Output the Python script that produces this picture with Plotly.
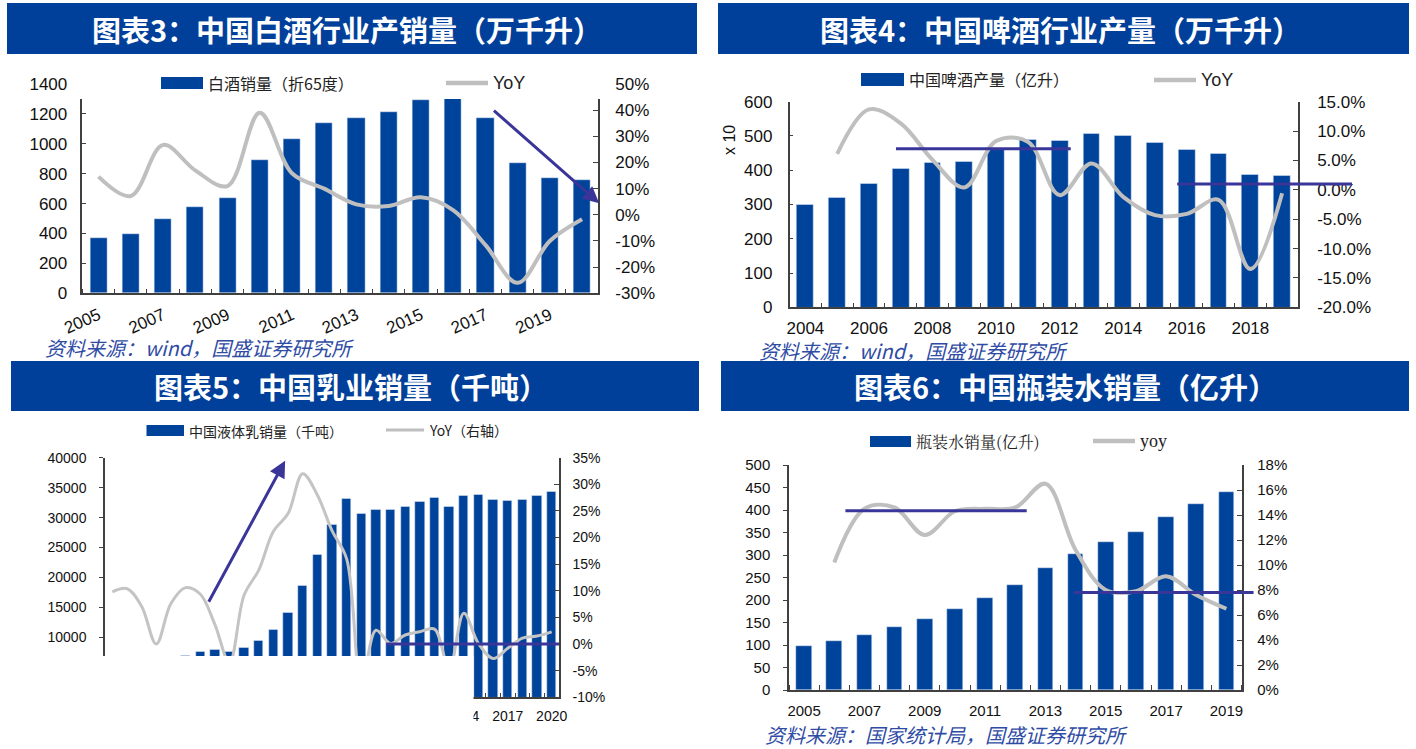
import plotly.graph_objects as go

W, H = 1416, 749

# ---------------- data ----------------
# 图表3 白酒
liquor_years = list(range(2005, 2021))
liquor_sales = [372, 397, 495, 575, 640, 890, 1030, 1140, 1175, 1215, 1290, 1340, 1175, 869, 773, 758]
liquor_yoy = [0.146, 0.072, 0.267, 0.17, 0.11, 0.39, 0.159, 0.10, 0.04, 0.034, 0.067, 0.018,
              -0.115, -0.26, -0.10, -0.017]
liquor_arrow = [(2017.22, 1230), (2020.53, 602)]

# 图表4 啤酒
beer_years = list(range(2004, 2020))
beer_output = [300, 320, 362, 404, 423, 425, 460, 490, 487, 506, 500, 480, 459, 448, 388, 385]
beer_yoy_years = list(range(2005, 2020))
beer_yoy = [0.061, 0.137, 0.113, 0.051, 0.004, 0.083, 0.082, -0.009, 0.045, -0.012,
            -0.043, -0.041, -0.017, -0.135, -0.006]
beer_lines = [(2006.85, 2012.35, 0.070), (2015.7, 2021.2, 0.010)]

# 图表5 乳业
dairy_years = list(range(1990, 2021))
dairy_sales = [4950, 5450, 5850, 5850, 6300, 6950, 7620, 7900, 7620, 8290,
               9460, 11350, 14190, 18640, 23870, 28870, 33210, 30650, 31380, 31380,
               31820, 32650, 33320, 31760, 33600, 33880, 33040, 32770, 33040, 33600, 34320]
dairy_yoy = [0.098, 0.104, 0.071, 0.0, 0.076, 0.106, 0.094, 0.037, -0.035, 0.092,
             0.139, 0.212, 0.245, 0.32, 0.28, 0.213, 0.16, -0.077, 0.026, 0.001,
             0.017, 0.023, 0.028, -0.047, 0.058, 0.001, -0.027, -0.008, 0.011, 0.015, 0.023]
dairy_arrow = [(1996.53, 15690), (2001.8, 39500)]
dairy_lines = [(2008.74, 2020.5, 0.0)]

# 图表6 瓶装水
water_years = list(range(2005, 2020))
water_sales = [98, 110, 123, 140, 157, 180, 205, 234, 272, 303, 328, 352, 384, 413, 440]
water_yoy_years = list(range(2006, 2020))
water_yoy = [0.102, 0.145, 0.146, 0.124, 0.143, 0.145, 0.146, 0.165, 0.112, 0.080,
             0.079, 0.091, 0.076, 0.065]
water_lines = [(2006.37, 2012.38, 0.1435), (2013.94, 2019.9, 0.078)]

# tick labels
liquor_pct = [-0.3, -0.2, -0.1, 0, 0.1, 0.2, 0.3, 0.4, 0.5]
beer_pct = [-0.2, -0.15, -0.1, -0.05, 0, 0.05, 0.1, 0.15]
dairy_pct = [-0.1, -0.05, 0, 0.05, 0.1, 0.15, 0.2, 0.25, 0.3, 0.35]
water_pct = [0, 0.02, 0.04, 0.06, 0.08, 0.1, 0.12, 0.14, 0.16, 0.18]

# ---------------- style ----------------
BLUE = '#00439B'
BANNER = '#00409A'
GREY = '#BFBFBF'
PURPLE = '#3A3598'
AXIS = '#404040'
SRC = '#2F4CA5'
NUM = 'Liberation Sans, Arial, sans-serif'
CJK = 'Noto Sans CJK SC, sans-serif'


def px(x):
    return x / W


def py(y):
    return 1 - y / H


fig = go.Figure()

# bars + yoy lines
fig.add_trace(go.Bar(x=liquor_years, y=liquor_sales, marker_color=BLUE, width=0.53,
                     xaxis='x', yaxis='y'))
fig.add_trace(go.Scatter(x=liquor_years, y=liquor_yoy, mode='lines', xaxis='x', yaxis='y2',
                         line=dict(color=GREY, width=4, shape='spline')))

fig.add_trace(go.Bar(x=beer_years, y=beer_output, marker_color=BLUE, width=0.53,
                     xaxis='x2', yaxis='y3'))
fig.add_trace(go.Scatter(x=beer_yoy_years, y=beer_yoy, mode='lines', xaxis='x2', yaxis='y4',
                         line=dict(color=GREY, width=4, shape='spline')))

fig.add_trace(go.Bar(x=dairy_years, y=dairy_sales, marker_color=BLUE, width=0.64,
                     xaxis='x3', yaxis='y5'))
fig.add_trace(go.Scatter(x=dairy_years, y=dairy_yoy, mode='lines', xaxis='x3', yaxis='y6',
                         line=dict(color='#C4C4C4', width=3, shape='spline')))

fig.add_trace(go.Bar(x=water_years, y=water_sales, marker_color=BLUE, width=0.52,
                     xaxis='x4', yaxis='y7'))
fig.add_trace(go.Scatter(x=water_yoy_years, y=water_yoy, mode='lines', xaxis='x4', yaxis='y8',
                         line=dict(color=GREY, width=4, shape='spline')))


def xax(dom, rng, tick0, dtick, size, yid, angle=0, standoff=10):
    return dict(domain=[px(dom[0]), px(dom[1])], range=rng, anchor=yid, automargin=False,
                tick0=tick0, dtick=dtick, ticks='', showgrid=False, zeroline=False,
                showline=True, linecolor=AXIS, linewidth=1.5, tickangle=angle,
                ticklabelstandoff=standoff,
                tickfont=dict(family=NUM, size=size, color='#111'),
                minor=dict(tick0=rng[0], dtick=1, ticks='inside', ticklen=5,
                           tickcolor=AXIS, showgrid=False))


def yax(dom, rng, dtick, size, xid, ticks, standoff):
    return dict(domain=[py(dom[1]), py(dom[0])], range=rng, anchor=xid, dtick=dtick,
                automargin=False, tickformat='d',
                showgrid=False, zeroline=False, showline=True, linecolor=AXIS, linewidth=1.5,
                ticks=ticks, ticklen=4, tickcolor=AXIS, ticklabelstandoff=standoff,
                tickfont=dict(family=NUM, size=size, color='#111'))


def y2ax(base, rng, vals, fmt, size, xid, standoff):
    return dict(overlaying=base, side='right', anchor=xid, range=rng, automargin=False,
                tickvals=vals, ticktext=[format(v, fmt) for v in vals],
                showgrid=False, zeroline=False, showline=True, linecolor=AXIS, linewidth=1.5,
                ticks='inside', ticklen=5, tickcolor=AXIS, ticklabelstandoff=standoff,
                tickfont=dict(family=NUM, size=size, color='#111'))


# panel geometry (pixels): x left/right, y top/bottom
P1 = (82.4, 598.2, 84, 293.3)
P2 = (789.5, 1298, 101.7, 307.3)
P3 = (105, 559, 457.7, 697.3)
P4 = (789, 1241.5, 465, 690)

fig.update_layout(
    xaxis=xax(P1[:2], [2004.5, 2020.5], 2005, 2, 17, 'y', angle=-24, standoff=4),
    yaxis=yax(P1[2:], [0, 1400], 200, 17, 'x', 'inside', 10),
    yaxis2=y2ax('y', [-0.3, 0.5], liquor_pct, '.0%', 17, 'x', 12),
    xaxis2=xax(P2[:2], [2003.5, 2019.5], 2004, 2, 17, 'y3', standoff=5),
    yaxis3=yax(P2[2:], [0, 600], 100, 17, 'x2', 'inside', 12),
    yaxis4=y2ax('y3', [-0.2, 0.15], beer_pct, '.1%', 17, 'x2', 14),
    xaxis3=xax(P3[:2], [1989.5, 2020.5], 2020, 3, 14, 'y5', standoff=5),
    yaxis5=yax(P3[2:], [0, 40000], 5000, 14, 'x3', 'outside', 10),
    yaxis6=y2ax('y5', [-0.1, 0.35], dairy_pct, '.0%', 14, 'x3', 9),
    xaxis4=xax(P4[:2], [2004.5, 2019.5], 2005, 2, 15, 'y7', standoff=6),
    yaxis7=yax(P4[2:], [0, 500], 50, 15, 'x4', 'outside', 10),
    yaxis8=y2ax('y7', [0, 0.18], water_pct, '.0%', 15, 'x4', 11),
)

shapes = []
annos = []

# white strip hiding the top of the liquor plot
shapes.append(dict(type='rect', xref='paper', yref='paper', x0=px(78), x1=px(602),
                   y0=py(99), y1=py(80), fillcolor='white', line_width=0, layer='above'))
# white cover on the lower left of the dairy chart
shapes.append(dict(type='rect', xref='paper', yref='paper', x0=0, x1=px(473.5),
                   y0=0, y1=py(656), fillcolor='white', line_width=0, layer='above'))


# reference lines
def ref_lines(lines, xid, yid, rng):
    for x0, x1, v in lines:
        shapes.append(dict(type='line', xref=xid + ' domain', yref=yid,
                           x0=(x0 - rng[0]) / (rng[1] - rng[0]),
                           x1=(x1 - rng[0]) / (rng[1] - rng[0]),
                           y0=v, y1=v, line=dict(color=PURPLE, width=3), layer='above'))


ref_lines(beer_lines, 'x2', 'y4', [2003.5, 2019.5])
ref_lines(dairy_lines, 'x3', 'y6', [1989.5, 2020.5])
ref_lines(water_lines, 'x4', 'y8', [2004.5, 2019.5])

# arrows
for arr, xr, yr in [(liquor_arrow, 'x', 'y'), (dairy_arrow, 'x3', 'y5')]:
    (ax0, ay0), (ax1, ay1) = arr
    annos.append(dict(x=ax1, y=ay1, xref=xr, yref=yr, ax=ax0, ay=ay0, axref=xr, ayref=yr,
                      text='', showarrow=True, arrowhead=2, arrowsize=1.1, arrowwidth=3,
                      arrowcolor=PURPLE, standoff=0))

# title banners
banners = [
    ((7, 697, 3, 54), '图表3：中国白酒行业产销量（万千升）', 347),
    ((718, 1409, 3, 54), '图表4：中国啤酒行业产量（万千升）', 1060),
    ((11, 699, 361, 411), '图表5：中国乳业销量（千吨）', 351),
    ((721, 1409, 361, 411), '图表6：中国瓶装水销量（亿升）', 1065),
]
for (x0, x1, y0, y1), text, cx in banners:
    shapes.append(dict(type='rect', xref='paper', yref='paper', x0=px(x0), x1=px(x1),
                       y0=py(y1), y1=py(y0), fillcolor=BANNER, line_width=0, layer='above'))
    annos.append(dict(x=px(cx), y=py((y0 + y1) / 2), xref='paper', yref='paper',
                      text='<b>' + text + '</b>', showarrow=False, xanchor='center',
                      yanchor='middle', font=dict(family=CJK, size=29, color='white')))

# legends (drawn by hand so the bar swatch is a wide block)
legends = [
    ((161, 203, 77, 89), '白酒销量（折65度）', (446, 488, 83), 'YoY', 16, 4.5, CJK),
    ((861, 904, 73, 86), '中国啤酒产量（亿升）', (1154, 1196, 80), 'YoY', 16, 4.5, CJK),
    ((146.5, 184, 425, 436), '中国液体乳销量（千吨）', (386, 424, 430), 'YoY（右轴）', 14, 3, CJK),
    ((870, 911, 436, 447), '瓶装水销量(亿升)', (1093, 1135, 441), 'yoy', 16, 4.5,
     'Noto Serif CJK SC, Liberation Serif, serif'),
]
for (bx0, bx1, by0, by1), btxt, (lx0, lx1, ly), ltxt, fs, lw, fam in legends:
    shapes.append(dict(type='rect', xref='paper', yref='paper', x0=px(bx0), x1=px(bx1),
                       y0=py(by1), y1=py(by0), fillcolor=BLUE, line_width=0, layer='above'))
    annos.append(dict(x=px(bx1 + 3), y=py((by0 + by1) / 2), xref='paper', yref='paper',
                      text=btxt, showarrow=False, xanchor='left', yanchor='middle',
                      font=dict(family=fam, size=fs, color='#222')))
    shapes.append(dict(type='line', xref='paper', yref='paper', x0=px(lx0), x1=px(lx1),
                       y0=py(ly), y1=py(ly), line=dict(color=GREY, width=lw), layer='above'))
    lfam = 'Liberation Serif, serif' if ltxt == 'yoy' else (NUM if ltxt == 'YoY' else fam)
    annos.append(dict(x=px(lx1 + 3), y=py(ly), xref='paper', yref='paper',
                      text=ltxt, showarrow=False, xanchor='left', yanchor='middle',
                      font=dict(family=lfam, size=fs + 2 if ltxt != 'YoY（右轴）' else fs,
                                color='#222')))

# "x 10" unit label on the beer chart
annos.append(dict(x=px(730), y=py(123), xref='paper', yref='paper', text='x 10',
                  textangle=-90, showarrow=False, font=dict(family=NUM, size=16, color='#111')))

# source notes
sources = [
    (43, 347, '资料来源：wind，国盛证券研究所', 20),
    (757, 350, '资料来源：wind，国盛证券研究所', 20),
    (763, 734, '资料来源：国家统计局，国盛证券研究所', 20),
]
for sx, sy, stxt, fs in sources:
    annos.append(dict(x=px(sx), y=py(sy), xref='paper', yref='paper', text='<i>' + stxt + '</i>',
                      showarrow=False, xanchor='left', yanchor='middle',
                      font=dict(family=CJK, size=fs, color=SRC)))

fig.update_layout(
    width=W, height=H,
    margin=dict(l=0, r=0, t=0, b=0, pad=0),
    paper_bgcolor='white',
    plot_bgcolor='white',
    showlegend=False,
    bargap=0,
    shapes=shapes,
    annotations=annos,
)

fig.write_html('out.html', config={'displayModeBar': False},
               post_script="document.body.style.margin='0px';")
